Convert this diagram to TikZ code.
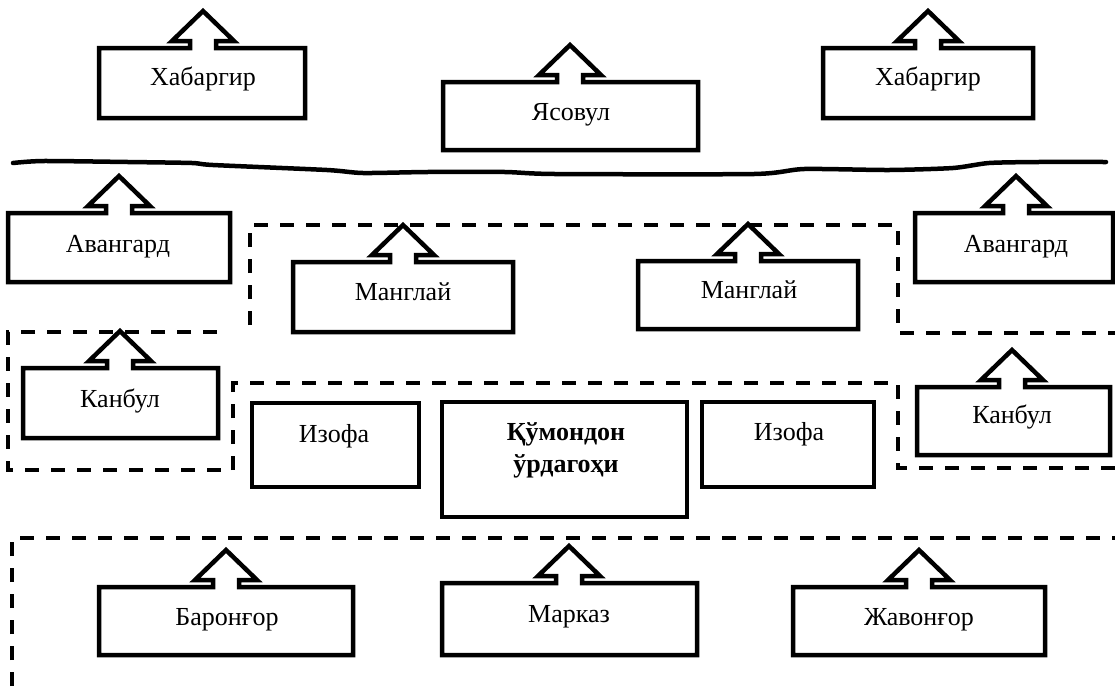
\documentclass[tikz,border=0pt]{standalone}
\usepackage{fontspec}
\setmainfont{Liberation Serif}
\begin{document}
\begin{tikzpicture}[x=1pt,y=-1pt,
  boxline/.style={line width=4.5pt,line join=miter,black},
  grpline/.style={line width=3.5pt,dash pattern=on 14pt off 12pt,black},
  lab/.style={font=\fontsize{26}{32}\selectfont,inner sep=0pt,anchor=base},
  blab/.style={font=\fontsize{26}{32}\selectfont\bfseries,inner sep=0pt,anchor=base}]
\newcommand\arrowbox[5]{%
  \draw[boxline] (#1,#2) -- ({#5-13},#2) -- ({#5-13},{#2-7}) -- ({#5-31},{#2-7})
    -- (#5,{#2-37}) -- ({#5+31},{#2-7}) -- ({#5+13},{#2-7}) -- ({#5+13},#2)
    -- (#3,#2) -- (#3,#4) -- (#1,#4) -- cycle;}
\useasboundingbox (0,0) rectangle (1115,686);
% wavy line
\draw[line width=4.5pt,line cap=round] plot[smooth,tension=0.4] coordinates {
 (13,163) (43,161) (128,162) (192,163) (213,165) (327,170) (363,173) (427,172)
 (505,172) (555,174) (754,174) (804,169) (889,170) (953,168) (989,163) (1038,162) (1106,162)};
% dashed groups
\draw[grpline] (250,325) -- (250,225) -- (898,225) -- (898,333) -- (1115,333);
\draw[grpline] (217,332) -- (8,332) -- (8,470) -- (233,470) -- (233,383) -- (898,383) -- (898,468) -- (1115,468);
\draw[grpline] (12,686) -- (12,538) -- (1115,538);
% arrow boxes
\arrowbox{99}{48}{305}{118}{203}
\arrowbox{443}{82}{698}{150}{570}
\arrowbox{823}{48}{1033}{118}{928}
\arrowbox{8}{213}{230}{282}{119}
\arrowbox{915}{213}{1113}{282}{1016}
\arrowbox{293}{262}{513}{332}{403}
\arrowbox{638}{261}{858}{329}{748}
\arrowbox{23}{368}{218}{438}{120}
\arrowbox{917}{387}{1110}{455}{1012}
\arrowbox{99}{587}{353}{655}{226}
\arrowbox{442}{583}{697}{655}{569}
\arrowbox{793}{587}{1045}{655}{919}
% plain boxes
\draw[boxline] (252,403) rectangle (419,487);
\draw[boxline] (442,402) rectangle (687,517);
\draw[boxline] (702,402) rectangle (874,487);
% labels
\node[lab] (hab1) at (203,85) {Хабаргир};
\node[lab] (jas) at (571,120) {Ясовул};
\node[lab] (hab2) at (928,85) {Хабаргир};
\node[lab] (av1) at (118,252) {Авангард};
\node[lab] (av2) at (1016,252) {Авангард};
\node[lab] (man1) at (403,300) {Манглай};
\node[lab] (man2) at (749,298) {Манглай};
\node[lab] (kan1) at (120,407) {Канбул};
\node[lab] (kan2) at (1012,423) {Канбул};
\node[lab] (iz1) at (334,442) {Изофа};
\node[lab] (iz2) at (789,440) {Изофа};
\node[blab] (kom1) at (566,440) {Қўмондон};
\node[blab] (kom2) at (566,472) {ўрдагоҳи};
\node[lab] (bar) at (227,625) {Баронғор};
\node[lab] (mar) at (569,622) {Марказ};
\node[lab] (jav) at (919,625) {Жавонғор};
\end{tikzpicture}
\end{document}
